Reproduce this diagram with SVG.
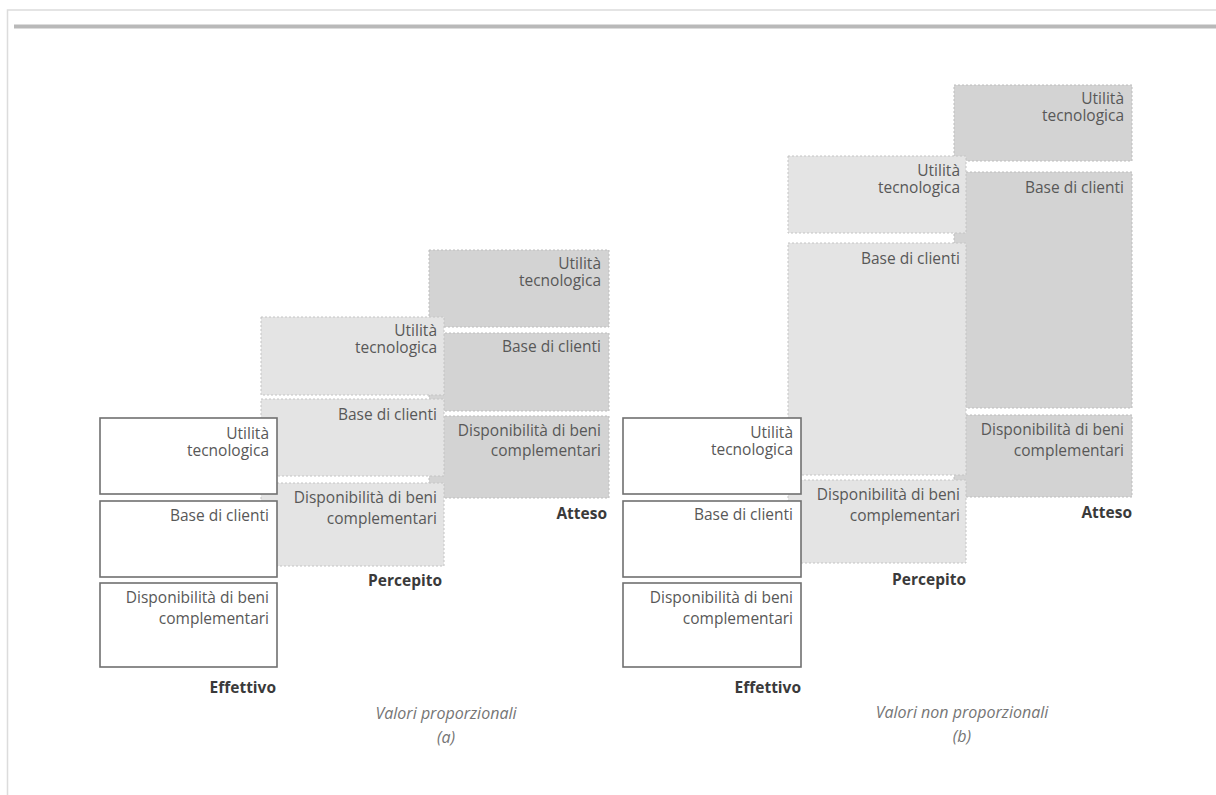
<svg xmlns="http://www.w3.org/2000/svg" width="1216" height="795" viewBox="0 0 1216 795">
  <style>
    .frame { stroke: #dcdcdc; stroke-width: 1.5; fill: none; }
    .rule { stroke: #b9b9b9; stroke-width: 4; }
    .eff { fill: #ffffff; stroke: #707070; stroke-width: 1.6; }
    .per { fill: #e4e4e4; stroke: #c4c4c4; stroke-width: 1; stroke-dasharray: 2 2; }
    .att { fill: #d3d3d3; stroke: #bdbdbd; stroke-width: 1; stroke-dasharray: 2 2; }
    text { font-family: "Open Sans", "Noto Sans", "DejaVu Sans", sans-serif; }
    .lbl { font-size: 15.5px; fill: #585858; text-anchor: end; }
    .col { font-size: 15.5px; font-weight: bold; fill: #3a3a3a; text-anchor: end; }
    .cap { font-size: 16px; font-style: italic; fill: #757575; text-anchor: middle; }
  </style>

  <!-- page frame and header rule -->
  <g id="frame">
    <path class="frame" d="M1216 10 H7.5 V795"/>
    <line class="rule" x1="14" y1="26.5" x2="1216" y2="26.5"/>
  </g>

  <!-- ===== Panel (a): proportional values ===== -->
  <!-- Atteso column (bottom layer) -->
  <g id="a-atteso-utilita">
    <rect class="att" x="429" y="250" width="180" height="77"/>
    <text class="lbl" x="601" y="269">Utilità<tspan x="601" dy="17">tecnologica</tspan></text>
  </g>
  <g id="a-atteso-base">
    <rect class="att" x="429" y="333" width="180" height="78"/>
    <text class="lbl" x="601" y="352">Base di clienti</text>
  </g>
  <g id="a-atteso-disp">
    <rect class="att" x="429" y="416" width="180" height="82"/>
    <text class="lbl" x="601" y="436">Disponibilità di beni<tspan x="601" dy="20">complementari</tspan></text>
  </g>
  <g id="a-atteso-label">
    <text class="col" x="607" y="519">Atteso</text>
  </g>

  <!-- Percepito column -->
  <g id="a-percepito-utilita">
    <rect class="per" x="261" y="317" width="183" height="78"/>
    <text class="lbl" x="437" y="336">Utilità<tspan x="437" dy="17">tecnologica</tspan></text>
  </g>
  <g id="a-percepito-base">
    <rect class="per" x="261" y="399" width="183" height="77"/>
    <text class="lbl" x="437" y="420">Base di clienti</text>
  </g>
  <g id="a-percepito-disp">
    <rect class="per" x="261" y="483" width="183" height="83"/>
    <text class="lbl" x="437" y="503">Disponibilità di beni<tspan x="437" dy="21">complementari</tspan></text>
  </g>
  <g id="a-percepito-label">
    <text class="col" x="442" y="586">Percepito</text>
  </g>

  <!-- Effettivo column (top layer) -->
  <g id="a-effettivo-utilita">
    <rect class="eff" x="100" y="418" width="177" height="76"/>
    <text class="lbl" x="269" y="439">Utilità<tspan x="269" dy="17">tecnologica</tspan></text>
  </g>
  <g id="a-effettivo-base">
    <rect class="eff" x="100" y="501" width="177" height="76"/>
    <text class="lbl" x="269" y="521">Base di clienti</text>
  </g>
  <g id="a-effettivo-disp">
    <rect class="eff" x="100" y="583" width="177" height="84"/>
    <text class="lbl" x="269" y="603">Disponibilità di beni<tspan x="269" dy="21">complementari</tspan></text>
  </g>
  <g id="a-effettivo-label">
    <text class="col" x="276" y="693">Effettivo</text>
  </g>

  <g id="a-caption">
    <text class="cap" x="446" y="719">Valori proporzionali<tspan x="446" dy="24">(a)</tspan></text>
  </g>

  <!-- ===== Panel (b): non-proportional values ===== -->
  <!-- Atteso column (bottom layer) -->
  <g id="b-atteso-utilita">
    <rect class="att" x="954" y="85" width="178" height="76"/>
    <text class="lbl" x="1124" y="104">Utilità<tspan x="1124" dy="17">tecnologica</tspan></text>
  </g>
  <g id="b-atteso-base">
    <rect class="att" x="954" y="172" width="178" height="236"/>
    <text class="lbl" x="1124" y="193">Base di clienti</text>
  </g>
  <g id="b-atteso-disp">
    <rect class="att" x="954" y="415" width="178" height="82"/>
    <text class="lbl" x="1124" y="435">Disponibilità di beni<tspan x="1124" dy="21">complementari</tspan></text>
  </g>
  <g id="b-atteso-label">
    <text class="col" x="1132" y="518">Atteso</text>
  </g>

  <!-- Percepito column -->
  <g id="b-percepito-utilita">
    <rect class="per" x="788" y="156" width="178" height="77"/>
    <text class="lbl" x="960" y="176">Utilità<tspan x="960" dy="17">tecnologica</tspan></text>
  </g>
  <g id="b-percepito-base">
    <rect class="per" x="788" y="243" width="178" height="232"/>
    <text class="lbl" x="960" y="264">Base di clienti</text>
  </g>
  <g id="b-percepito-disp">
    <rect class="per" x="788" y="480" width="178" height="83"/>
    <text class="lbl" x="960" y="500">Disponibilità di beni<tspan x="960" dy="21">complementari</tspan></text>
  </g>
  <g id="b-percepito-label">
    <text class="col" x="966" y="585">Percepito</text>
  </g>

  <!-- Effettivo column (top layer) -->
  <g id="b-effettivo-utilita">
    <rect class="eff" x="623" y="418" width="178" height="76"/>
    <text class="lbl" x="793" y="438">Utilità<tspan x="793" dy="17">tecnologica</tspan></text>
  </g>
  <g id="b-effettivo-base">
    <rect class="eff" x="623" y="501" width="178" height="76"/>
    <text class="lbl" x="793" y="520">Base di clienti</text>
  </g>
  <g id="b-effettivo-disp">
    <rect class="eff" x="623" y="583" width="178" height="84"/>
    <text class="lbl" x="793" y="603">Disponibilità di beni<tspan x="793" dy="21">complementari</tspan></text>
  </g>
  <g id="b-effettivo-label">
    <text class="col" x="801" y="693">Effettivo</text>
  </g>

  <g id="b-caption">
    <text class="cap" x="962" y="718">Valori non proporzionali<tspan x="962" dy="24">(b)</tspan></text>
  </g>

  <!-- no connectors in this figure -->
  <g id="connectors"/>
</svg>
